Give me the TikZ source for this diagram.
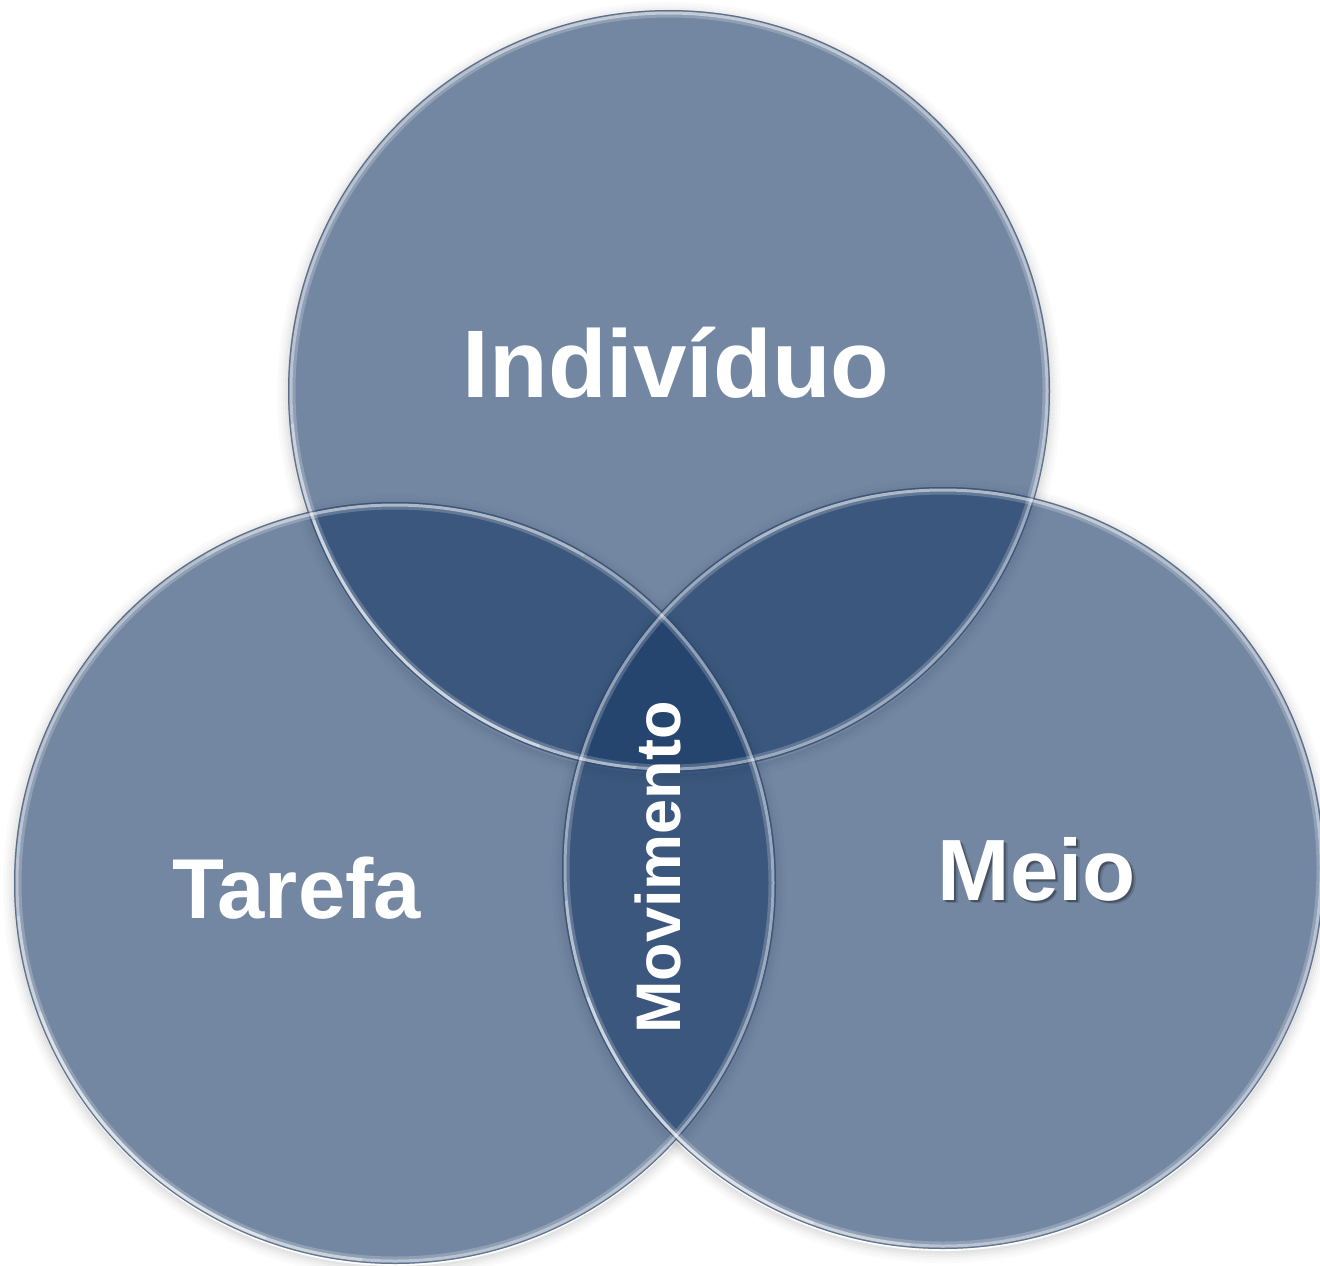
\documentclass[tikz,border=0pt]{standalone}
\usepackage{fontspec}
\setmainfont{Liberation Sans}
\usetikzlibrary{calc}
\definecolor{discfill}{RGB}{22,55,100}
\definecolor{rimdark}{RGB}{70,90,120}

% white text with a soft dark shadow set behind it, down and to the right
\newcommand\softshadow[1]{%
  \rlap{\kern3.5pt\lower3.5pt\hbox{\pgfsetfillopacity{0.14}\color{black}#1}}%
  \rlap{\kern2pt\lower2pt\hbox{\pgfsetfillopacity{0.28}\color{black}#1}}%
  \pgfsetfillopacity{1}#1}

\begin{document}
\begin{tikzpicture}[x=1pt,y=-1pt,
  disc/.style={fill=discfill, fill opacity=0.6},
  txt/.style={text=white, inner sep=0pt, anchor=base},
]
\useasboundingbox (0,0) rectangle (1320,1266);

% centres of the three discs
\coordinate (cI) at (669,391);
\coordinate (cT) at (395,883);
\coordinate (cM) at (943,868);
\def\R{381}
\def\Ra{378}
\def\Rb{375}

% soft drop shadows under the discs
\foreach \c in {cI,cT,cM}{
  \foreach \k/\o in {0/0.10,2/0.08,4/0.06,6/0.04,8/0.025,10/0.015}{
    \draw[black, opacity=\o, line width=2.2pt] ([yshift=-3pt]\c) circle (\R+\k);
  }
}

% translucent discs
\foreach \c in {cI,cT,cM}{
  \fill[disc] (\c) circle (\R);
}

% bevelled rims
\foreach \c in {cI,cT,cM}{
  \draw[rimdark, opacity=0.4, line width=1pt] (\c) circle (\R-0.5);
  \draw[white, opacity=0.5, line width=3pt] (\c) circle (\Ra);
  \draw[white, opacity=0.2, line width=3pt] (\c) circle (\Rb);
  \draw[white, opacity=0.25, line width=3pt] ($(\c)+(95:\Ra)$) arc (95:175:\Ra);
  \draw[white, opacity=0.35, line width=3pt] ($(\c)+(110:\Ra)$) arc (110:160:\Ra);
  \draw[white, opacity=0.2, line width=3pt] ($(\c)+(240:\Ra)$) arc (240:300:\Ra);
}

% labels
\node[txt, font=\bfseries\fontsize{96}{110}\selectfont] (ind) at (676,397) {Indivíduo};
\node[txt, font=\bfseries\fontsize{85}{100}\selectfont] (tar) at (296.5,918) {Tarefa};
\node[txt, font=\bfseries\fontsize{87}{100}\selectfont] (mei) at (1037,900) {\softshadow{Meio}};
\node[txt, rotate=90, font=\bfseries\fontsize{63}{75}\selectfont] (mov) at (680,867.5) {Movimento};
\end{tikzpicture}
\end{document}
